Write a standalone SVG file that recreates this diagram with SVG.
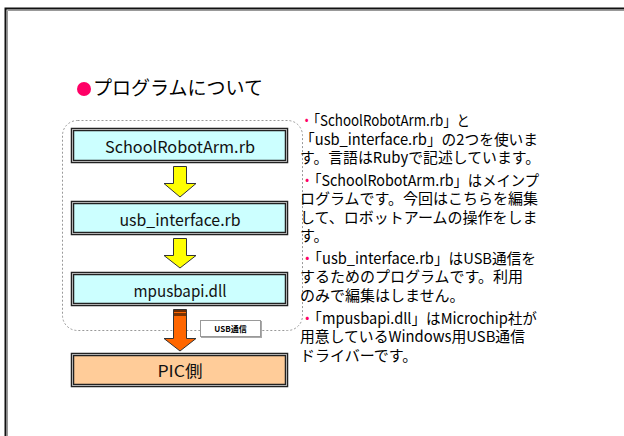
<svg xmlns="http://www.w3.org/2000/svg" width="624" height="436" viewBox="0 0 624 436">
  <style>
    .jp { font-family: "Noto Sans CJK JP", "Noto Sans", sans-serif; fill: #000; }
    .body { font-size: 15px; }
    .dot { fill: #FF0066; }
    .label { font-family: "Noto Sans CJK JP", "Liberation Sans", sans-serif; font-size: 16px; fill: #111; text-anchor: middle; }
    .boxOuter { stroke: #222; stroke-width: 3.5; }
    .boxInner { fill: none; stroke: #b0b0b0; stroke-width: 1; }
    .yellow { fill: #FFFF00; stroke: #333; stroke-width: 1; }
    .orange { fill: #FF6600; stroke: #333; stroke-width: 1; }
  </style>

  <!-- slide frame -->
  <rect x="0" y="0" width="624" height="436" fill="#fff"/>
  <path d="M5.5,436 V8.5 H624" fill="none" stroke="#111" stroke-width="2"/>
  <path d="M7.5,436 V10.5 H624" fill="none" stroke="#999" stroke-width="1"/>

  <!-- heading -->
  <g id="title">
    <circle cx="84" cy="89" r="7" fill="#FF0066"/>
    <text class="jp" x="93" y="95" font-size="19" textLength="170" lengthAdjust="spacingAndGlyphs">プログラムについて</text>
  </g>

  <!-- PC-side grouping -->
  <g id="pc-group">
    <rect x="62.5" y="120.5" width="240" height="210" rx="15" ry="15" fill="none" stroke="#999" stroke-width="1" stroke-dasharray="2,2"/>
  </g>

  <g id="connectors">
    <path class="yellow" d="M173.5,166.5 H186.5 V183.5 H196 L180,197 L164,183.5 H173.5 Z"/>
    <path class="yellow" d="M173.5,238.5 H186.5 V255.5 H196 L180,268 L164,255.5 H173.5 Z"/>
    <path class="orange" d="M173.5,309.5 H186.5 V338.5 H196 L180,351 L164,338.5 H173.5 Z"/>
    <rect x="174" y="310" width="12" height="2" fill="#6b2a00"/>
    <rect x="174" y="313" width="12" height="3" fill="#7a3200"/>
  </g>

  <g id="node-school">
    <rect class="boxOuter" x="72.5" y="129.5" width="214" height="32" fill="#CCFFFF"/>
    <rect class="boxInner" x="72.5" y="129.5" width="214" height="32"/>
    <text class="label" x="180" y="153" textLength="150" lengthAdjust="spacingAndGlyphs">SchoolRobotArm.rb</text>
  </g>

  <g id="node-usb">
    <rect class="boxOuter" x="72.5" y="202.5" width="214" height="31" fill="#CCFFFF"/>
    <rect class="boxInner" x="72.5" y="202.5" width="214" height="31"/>
    <text class="label" x="180" y="225.5" textLength="121" lengthAdjust="spacingAndGlyphs">usb_interface.rb</text>
  </g>

  <g id="node-mpusbapi">
    <rect class="boxOuter" x="72.5" y="273.5" width="214" height="31" fill="#CCFFFF"/>
    <rect class="boxInner" x="72.5" y="273.5" width="214" height="31"/>
    <text class="label" x="180" y="296.5" textLength="93" lengthAdjust="spacingAndGlyphs">mpusbapi.dll</text>
  </g>

  <g id="usb-label">
    <rect x="201" y="321" width="61" height="17" fill="#aaa"/>
    <rect x="200.5" y="320.5" width="60" height="16" fill="#fff" stroke="#999" stroke-width="1"/>
    <text class="jp" x="230.5" y="332" font-size="8" font-weight="bold" text-anchor="middle">USB通信</text>
  </g>

  <g id="node-pic">
    <rect class="boxOuter" x="72.5" y="354.5" width="214" height="31" fill="#FFCC99"/>
    <rect class="boxInner" x="72.5" y="354.5" width="214" height="31"/>
    <text class="label" x="180" y="377" font-size="18" textLength="45" lengthAdjust="spacingAndGlyphs">PIC側</text>
  </g>

  <!-- explanation, one text block per bullet -->
  <g id="notes" class="jp body">
    <text x="300" y="126">
      <tspan x="300" y="126" textLength="170" lengthAdjust="spacingAndGlyphs"><tspan class="dot">・</tspan>「SchoolRobotArm.rb」と</tspan>
      <tspan x="300" y="145" textLength="238" lengthAdjust="spacingAndGlyphs">「usb_interface.rb」の2つを使いま</tspan>
      <tspan x="300" y="163" textLength="240" lengthAdjust="spacingAndGlyphs">す。言語はRubyで記述しています。</tspan>
    </text>
    <text x="300" y="186">
      <tspan x="300" y="186" textLength="239" lengthAdjust="spacingAndGlyphs"><tspan class="dot">・</tspan>「SchoolRobotArm.rb」はメインプ</tspan>
      <tspan x="300" y="204">ログラムです。今回はこちらを編集</tspan>
      <tspan x="300" y="223">して、ロボットアームの操作をしま</tspan>
      <tspan x="300" y="241">す。</tspan>
    </text>
    <text x="300" y="264">
      <tspan x="300" y="264" textLength="236" lengthAdjust="spacingAndGlyphs"><tspan class="dot">・</tspan>「usb_interface.rb」はUSB通信を</tspan>
      <tspan x="300" y="282">するためのプログラムです。利用</tspan>
      <tspan x="300" y="301">のみで編集はしません。</tspan>
    </text>
    <text x="300" y="324">
      <tspan x="300" y="324" textLength="237" lengthAdjust="spacingAndGlyphs"><tspan class="dot">・</tspan>「mpusbapi.dll」はMicrochip社が</tspan>
      <tspan x="300" y="342" textLength="225" lengthAdjust="spacingAndGlyphs">用意しているWindows用USB通信</tspan>
      <tspan x="300" y="361">ドライバーです。</tspan>
    </text>
  </g>
</svg>
